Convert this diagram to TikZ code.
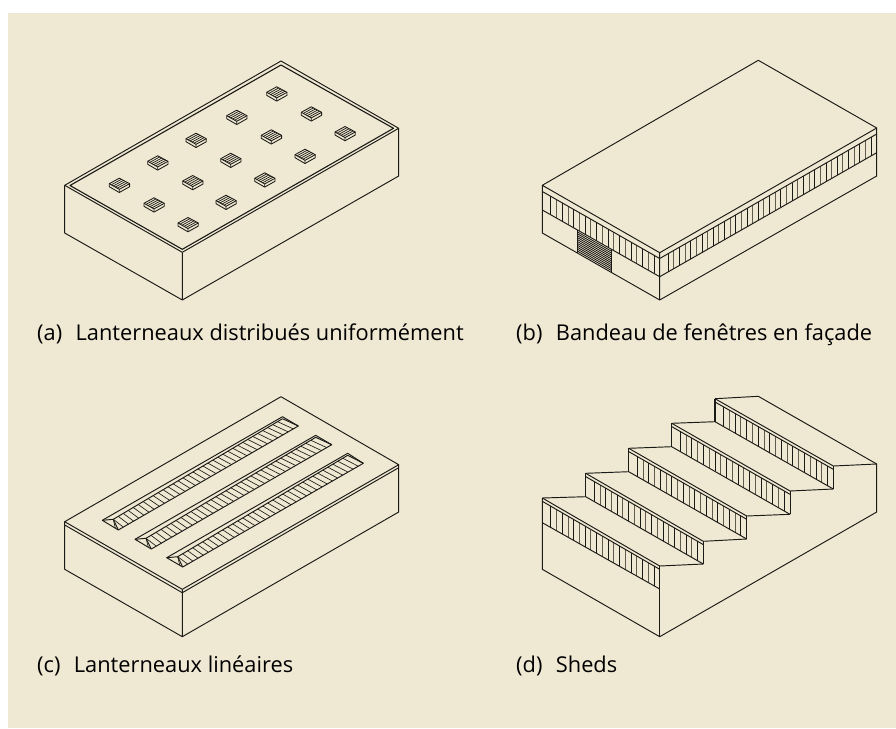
\documentclass[tikz,border=0pt]{standalone}
\usepackage{fontspec}
\setmainfont{Open Sans}
\usetikzlibrary{calc}
\definecolor{panel}{HTML}{EFE8D2}
\definecolor{ink}{HTML}{1A1A16}
\definecolor{mull}{HTML}{5F5C4C}
\tikzset{
  edge/.style={draw=ink,line width=0.95pt,line join=round},
  thin edge/.style={draw=ink,line width=0.65pt},
  shade edge/.style={draw=mull,line width=1pt},
  caption/.style={anchor=base west,inner sep=0pt,font=\fontsize{21.8}{26}\selectfont,text=black}
}
% mullions between two parallel segments: a-b (top) and c-d (bottom)
\newcommand{\mullions}[5]{%
  \foreach \k in {1,...,#5}{
    \pgfmathsetmacro{\tt}{(\k-0.25)/(#5+0.25)}
    \pgfmathsetmacro{\ts}{(\k+0.25)/(#5+0.25)}
    \draw[edge] ($(#1)!\tt!(#2)$) -- ($(#3)!\tt!(#4)$);
    \draw[shade edge] ($(#1)!\ts!(#2)$) -- ($(#3)!\ts!(#4)$);
  }}
% small roof light
\newcommand{\rooflight}[2]{%
  \begin{scope}[shift={(#1,#2)}]
    \draw[edge,line width=0.85pt] (-10,-2) -- (0,-7.5) -- (10.3,-2) -- (10.3,1) -- (0,6.8) -- (-10,1) -- cycle;
    \draw[edge,line width=0.85pt] (-10,-2) -- (0,3.6) -- (10.3,-2) (0,3.6) -- (0,6.8);
    \foreach \q in {0.2,0.4,0.6,0.8}{
      \draw[thin edge,line width=0.7pt] ($(-10,-2)!\q!(0,3.6)$) -- ($(0,-7.5)!\q!(10.3,-2)$);
    }
  \end{scope}}
% linear roof lantern: tip, low corner, far tip, far low corner
\newcommand{\lantern}[4]{%
  \coordinate (t1) at #1; \coordinate (l1) at #2; \coordinate (t2) at #3; \coordinate (l2) at #4;
  \coordinate (r1) at ($(t1)+(11,-1)$);
  \coordinate (r2) at ($(t2)+(0,2)$);
  \coordinate (ha) at ($(l1)+(5,-2.9)$);
  \coordinate (hb) at ($(l2)+(-5,2.9)$);
  \coordinate (ra) at ($(t2)+(-5,4.9)$);
  \foreach \k in {0,...,33}{
    \pgfmathsetmacro{\tt}{\k/33}
    \draw[thin edge] ($(r1)!\tt!(ra)$) -- ($(ha)!\tt!(hb)$);
  }
  \draw[edge] (t1) -- (t2) -- (l2) -- (l1) -- cycle;
  \draw[edge] (t1) -- (r1) -- (l1) (r1) -- (r2) -- (l2);
  \draw[thin edge] (r1) -- ($(l1)+(-3,-2)$);
}
\begin{document}
\begin{tikzpicture}[x=1pt,y=-1pt]
\useasboundingbox (0,0) rectangle (896,728);
\fill[white] (0,0) rectangle (896,728);
\fill[panel] (8,13) rectangle (896,728);

% (a)
\coordinate (aT) at (281,61);
\coordinate (aR) at (398.7,128.3);
\coordinate (aL) at (64.7,185.3);
\coordinate (aF) at (182.3,252.3);
\coordinate (aB) at (182.3,300);
\coordinate (aLb) at (64.7,233);
\coordinate (aRb) at (398.7,176);
\draw[edge] (aT) -- (aR) -- (aF) -- (aL) -- cycle;
\draw[edge] (aL) -- (aLb) -- (aB) -- (aRb) -- (aR) (aF) -- (aB);
\draw[edge,line width=1.1pt] (281,65) -- (393.5,128.3) -- (182.3,249.3) -- (70,185.5) -- cycle;
\foreach \cx/\cy in {119.3/185.7,157.7/163.3,196/140.7,236.7/117.7,276.7/94.3,
                     154/205.3,192.7/183,230.7/160.7,271.3/137.3,311.3/114.3,
                     188/225,226/202.7,264.7/180.3,305/156.7,345/134}{
  \rooflight{\cx}{\cy}
}

% (b)
\coordinate (bT) at (758.3,60.3);
\coordinate (bR) at (876.7,128);
\coordinate (bL) at (542.3,185.3);
\coordinate (bF) at (659.7,252.7);
\coordinate (bB) at (659.7,300);
\coordinate (bLb) at (542.3,233);
\coordinate (bRb) at (876.7,176);
\coordinate (bL1) at (542.3,191.5);
\coordinate (bF1) at (659.7,258.5);
\coordinate (bR1) at (876.7,134);
\coordinate (bL2) at (542.3,210);
\coordinate (bF2) at (659.7,276.7);
\coordinate (bR2) at (876.7,152.7);
\mullions{bL1}{bF1}{bL2}{bF2}{10}
\mullions{bF1}{bR1}{bF2}{bR2}{19}
\draw[edge] (bT) -- (bR) -- (bF) -- (bL) -- cycle;
\draw[edge] (bL) -- (bLb) -- (bB) -- (bRb) -- (bR) (bF) -- (bB);
\draw[edge] (bL1) -- (bF1) -- (bR1) (bL2) -- (bF2) -- (bR2);
\coordinate (dA) at ($(bL2)!0.3!(bF2)$);
\coordinate (dB) at ($(bL2)!0.59!(bF2)$);
\coordinate (dC) at ($(bLb)!0.3!(bB)$);
\coordinate (dD) at ($(bLb)!0.59!(bB)$);
\foreach \k in {1,...,11}{
  \pgfmathsetmacro{\tt}{\k/12}
  \draw[edge,line width=0.85pt] ($(dA)!\tt!(dC)$) -- ($(dB)!\tt!(dD)$);
}
\draw[edge,line width=1.1pt] (dA) -- (dC) (dB) -- (dD);

% (c)
\coordinate (cT) at (281,396.7);
\coordinate (cR) at (398.7,464.7);
\coordinate (cL) at (64.7,521.7);
\coordinate (cF) at (182.3,589.3);
\coordinate (cB) at (182.3,636.7);
\coordinate (cLb) at (64.7,569.3);
\coordinate (cRb) at (398.7,512);
\draw[edge] (cT) -- (cR) -- (cF) -- (cL) -- cycle;
\draw[edge] (cL) -- (cLb) -- (cB) -- (cRb) -- (cR) (cF) -- (cB);
\draw[edge] (64.7,525) -- (182.3,592.7) -- (398.7,467.7);
\lantern{(102.3,520.3)}{(118.3,530)}{(282.5,416.7)}{(298.3,426)}
\lantern{(135,539.3)}{(151.3,549)}{(315.7,435.3)}{(331.7,444.7)}
\lantern{(166.7,557.7)}{(182.7,567)}{(347.7,453.3)}{(363.3,463.3)}

% (d)
\coordinate (dT) at (758.3,396.3);
\coordinate (dR) at (876.7,464);
\coordinate (dRb) at (876.7,512);
\coordinate (dBm) at (659.7,636.7);
\coordinate (dLb) at (542.3,569.3);
\coordinate (u0) at (542.3,498);   \coordinate (v0) at (659.7,566);
\coordinate (w0) at (542.3,522.7); \coordinate (x0) at (659.7,589);
\coordinate (u1) at (585.7,473.3); \coordinate (v1) at (703.3,541.3);
\coordinate (w1) at (585.7,496.7); \coordinate (x1) at (703.3,564);
\coordinate (u2) at (628.7,448.3); \coordinate (v2) at (746.7,516);
\coordinate (w2) at (628.7,471.7); \coordinate (x2) at (746.7,539);
\coordinate (u3) at (671.7,423.3); \coordinate (v3) at (790,491);
\coordinate (w3) at (671.7,446.7); \coordinate (x3) at (790,514.3);
\coordinate (u4) at (715,398.7);   \coordinate (v4) at (833.3,466);
\coordinate (w4) at (715,421.7);   \coordinate (x4) at (833.3,489);
\foreach \n in {0,...,4}{
  \coordinate (ua) at ($(u\n)+(0,3.3)$);
  \coordinate (va) at ($(v\n)+(0,3.3)$);
  \mullions{ua}{va}{w\n}{x\n}{10}
  \draw[edge] (u\n) -- (v\n) (ua) -- (va) (w\n) -- (x\n);
  \draw[edge,line width=1.3pt] (u\n) -- (w\n);
  \draw[edge] (v\n) -- (x\n);
}
\draw[edge] (u0) -- (dLb) -- (dBm) -- (dRb) -- (dR) -- (dT) -- (u4);
\draw[edge] (v0) -- (dBm);
\draw[edge] (u0) -- (w1) (v0) -- (x1);
\draw[edge] (u1) -- (w2) (v1) -- (x2);
\draw[edge] (u2) -- (w3) (v2) -- (x3);
\draw[edge] (u3) -- (w4) (v3) -- (x4);
\draw[edge] (v4) -- (dR);

% captions
\node[caption] (capa) at (37,340) {(a)\hspace{0.45em}\,Lanterneaux distribués uniformément};
\node[caption] (capb) at (516,340) {(b)\hspace{0.45em}\,Bandeau de fenêtres en façade};
\node[caption] (capc) at (37,672) {(c)\hspace{0.45em}\,Lanterneaux linéaires};
\node[caption] (capd) at (516,672) {(d)\hspace{0.45em}\,Sheds};
\end{tikzpicture}
\end{document}
